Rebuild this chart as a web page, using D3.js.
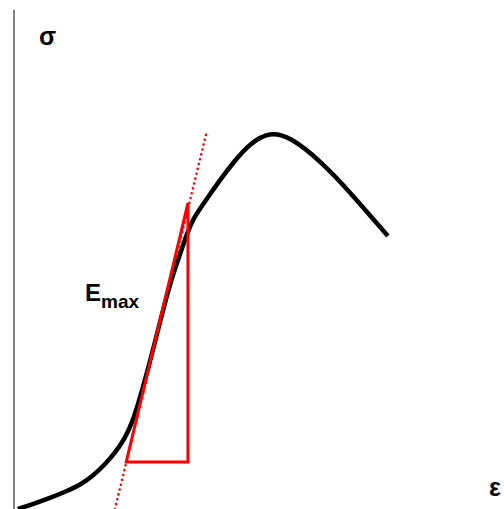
<!DOCTYPE html>
<html><head><meta charset="utf-8">
<script src="https://cdn.jsdelivr.net/npm/d3@7"></script>
<style>body{margin:0;background:#fff}svg{display:block}</style>
</head><body>
<script>
// stress-strain curve (arbitrary units)
const strain = [0.08,0.39,0.73,1.08,1.35,1.61,1.86,2.06,2.27,2.43,2.57,2.78,2.98,3.18,3.35,3.51,3.67,3.92,4.20,4.51,4.82,5.22,5.63,6.24,6.86,7.63];
const stress = [0.00,0.10,0.22,0.36,0.48,0.66,0.90,1.12,1.42,1.78,2.22,2.97,3.75,4.51,4.99,5.47,5.85,6.19,6.59,6.99,7.33,7.56,7.46,6.99,6.35,5.47];
// E_max triangle
const triStrain = [2.29,3.55,3.55];
const triStress = [0.94,0.94,6.13];
// tangent line
const tanStrain = [2.06,3.92];
const tanStress = [0.00,7.51];
const labels = {y:"σ", x:"ε", e:"E", sub:"max"};

const W=504,H=509;
const svg=d3.select("body").append("svg").attr("width",W).attr("height",H);
const x=d3.scaleLinear().domain([0,10]).range([14,504]);
const y=d3.scaleLinear().domain([0,10]).range([509,10]);

// vertical axis
svg.append("line").attr("x1",x(0)).attr("x2",x(0)).attr("y1",y(10)).attr("y2",y(0))
  .attr("stroke","#333").attr("stroke-width",1.2);

const straight=d3.line().x(d=>x(d[0])).y(d=>y(d[1]));
const smooth=d3.line().x(d=>x(d[0])).y(d=>y(d[1])).curve(d3.curveBasis);

// tangent dotted
svg.append("path").attr("d",straight(d3.zip(tanStrain,tanStress)))
  .attr("fill","none").attr("stroke","#ff0000").attr("stroke-width",2.6)
  .attr("stroke-linecap","round").attr("stroke-dasharray","0 5");

// curve
svg.append("path").attr("d",smooth(d3.zip(strain,stress)))
  .attr("fill","none").attr("stroke","#000").attr("stroke-width",4.5).attr("stroke-linejoin","round");

// triangle
svg.append("path").attr("d",straight(d3.zip(triStrain,triStress))+"Z")
  .attr("fill","none").attr("stroke","#ff0000").attr("stroke-width",3).attr("stroke-linejoin","miter");

const font="'Liberation Sans', Arial, sans-serif";
svg.append("text").attr("x",39).attr("y",45).attr("font-family",font).attr("font-weight","bold")
  .attr("font-size",25).text(labels.y);
svg.append("text").attr("x",489).attr("y",496).attr("font-family",font).attr("font-weight","bold")
  .attr("font-size",25).text(labels.x);
const t=svg.append("text").attr("x",85).attr("y",301).attr("font-family",font).attr("font-weight","bold").attr("font-size",24);
t.append("tspan").text(labels.e);
t.append("tspan").attr("dy",7).attr("font-size",19).text(labels.sub);
</script>
</body></html>
